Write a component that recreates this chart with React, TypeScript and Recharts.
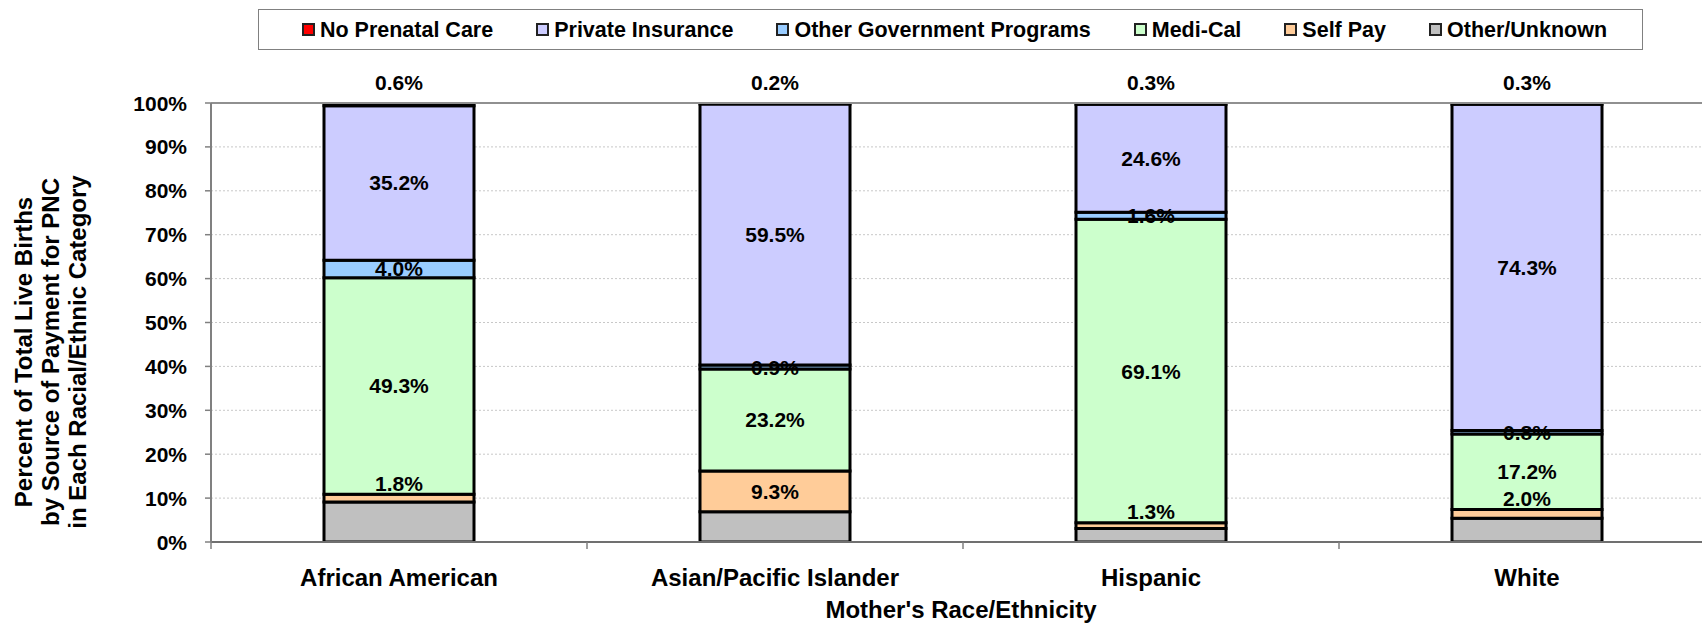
import React from 'react';
import { BarChart, Bar, XAxis, YAxis, CartesianGrid, ReferenceLine, LabelList } from 'recharts';

const categories = ['African American', 'Asian/Pacific Islander', 'Hispanic', 'White'];
const otherUnknown = [9.1, 6.9, 3.1, 5.4];
const selfPay = [1.8, 9.3, 1.3, 2.0];
const mediCal = [49.3, 23.2, 69.1, 17.2];
const otherGov = [4.0, 0.9, 1.6, 0.8];
const privateIns = [35.2, 59.5, 24.6, 74.3];
const noPrenatal = [0.6, 0.2, 0.3, 0.3];
const yTicks = [0, 10, 20, 30, 40, 50, 60, 70, 80, 90, 100];

const yTitleLines = ['Percent of Total Live Births', 'by Source of Payment for PNC', 'in Each Racial/Ethnic Category'];
const xTitle = "Mother's Race/Ethnicity";

type LabelMode = 'none' | 'center' | 'above' | 'selfpay';
const series: { key: string; name: string; values: number[]; color: string; mode: LabelMode }[] = [
  { key: 'otherUnknown', name: 'Other/Unknown', values: otherUnknown, color: '#C0C0C0', mode: 'none' },
  { key: 'selfPay', name: 'Self Pay', values: selfPay, color: '#FFCC99', mode: 'selfpay' },
  { key: 'mediCal', name: 'Medi-Cal', values: mediCal, color: '#CCFFCC', mode: 'center' },
  { key: 'otherGov', name: 'Other Government Programs', values: otherGov, color: '#99CCFF', mode: 'center' },
  { key: 'privateIns', name: 'Private Insurance', values: privateIns, color: '#CCCCFF', mode: 'center' },
  { key: 'noPrenatal', name: 'No Prenatal Care', values: noPrenatal, color: '#FF0000', mode: 'above' },
];

const data = categories.map((c, i) => {
  const row: Record<string, any> = { category: c };
  series.forEach((s) => {
    row[s.key] = s.values[i];
  });
  return row;
});

const FONT = '"Liberation Sans", Arial, Helvetica, sans-serif';
const CHART_W = 1730;
const CHART_H = 626;
const M = { top: 103, right: 15, bottom: 0, left: 0 };
const Y_AXIS_W = 211;
const X_AXIS_H = 84;
const BAND = (CHART_W - M.left - M.right - Y_AXIS_W) / categories.length;

const fmt = (v: number) => `${Number(v).toFixed(1)}%`;

const makeLabel = (mode: LabelMode) => (props: any) => {
  const vb = props.viewBox || {};
  const x = props.x ?? vb.x;
  const y = props.y ?? vb.y;
  const w = props.width ?? vb.width;
  const h = props.height ?? vb.height;
  const top = Math.min(y, y + h);
  const hh = Math.abs(h);
  const cx = x + w / 2;
  let cy = top + hh / 2;
  if (mode === 'above') cy = top - 21;
  if (mode === 'selfpay' && props.value < 5) cy = top - 11;
  return (
    <text
      x={cx}
      y={cy}
      textAnchor="middle"
      dominantBaseline="central"
      fontFamily={FONT}
      fontWeight="bold"
      fontSize={21}
      fill="#000"
    >
      {fmt(props.value)}
    </text>
  );
};

const XTick = (props: any) => {
  const { x, y, payload } = props;
  const left = x - BAND / 2;
  return (
    <g>
      <line x1={left} y1={y} x2={left} y2={y + 7} stroke="#808080" strokeWidth={1.5} />
      <text
        x={x}
        y={y + 35}
        textAnchor="middle"
        dominantBaseline="central"
        fontFamily={FONT}
        fontWeight="bold"
        fontSize={24}
        fill="#000"
      >
        {payload.value}
      </text>
    </g>
  );
};

const YTick = (props: any) => {
  const { x, y, payload } = props;
  return (
    <text
      x={x}
      y={y}
      textAnchor="end"
      dominantBaseline="central"
      fontFamily={FONT}
      fontWeight="bold"
      fontSize={21}
      fill="#000"
    >
      {`${payload.value}%`}
    </text>
  );
};

const legendItems = [...series].reverse();

export default function App() {
  return (
    <div style={{ position: 'absolute', left: 0, top: 0, width: 1702, height: 626, overflow: 'hidden', background: '#fff' }}>
      <div
        style={{
          position: 'absolute',
          left: 258,
          top: 9,
          width: 1385,
          height: 41,
          boxSizing: 'border-box',
          border: '1.5px solid #808080',
          display: 'flex',
          alignItems: 'center',
          justifyContent: 'center',
          fontFamily: FONT,
          fontWeight: 'bold',
          fontSize: 21.5,
          color: '#000',
          zIndex: 2,
          background: '#fff',
          paddingLeft: 8,
        }}
      >
        {legendItems.map((s, i) => (
          <div key={s.key} style={{ display: 'flex', alignItems: 'center', marginLeft: i === 0 ? 0 : 43 }}>
            <span
              style={{
                display: 'inline-block',
                width: 13,
                height: 13,
                boxSizing: 'border-box',
                background: s.color,
                border: '2px solid #222',
                marginRight: 5,
              }}
            />
            <span style={{ whiteSpace: 'nowrap', lineHeight: '24px' }}>{s.name}</span>
          </div>
        ))}
      </div>
      <BarChart width={CHART_W} height={CHART_H} data={data} margin={M} barSize={150}>
        <CartesianGrid vertical={false} horizontal stroke="#c8c8c8" strokeDasharray="2 2" />
        <XAxis
          dataKey="category"
          height={X_AXIS_H}
          axisLine={{ stroke: '#707070', strokeWidth: 2 }}
          tickLine={false}
          tickSize={0}
          tickMargin={0}
          tick={<XTick />}
          interval={0}
        />
        <YAxis
          width={Y_AXIS_W}
          domain={[0, 100]}
          ticks={yTicks}
          interval={0}
          allowDataOverflow
          axisLine={{ stroke: '#808080', strokeWidth: 2 }}
          tickLine={{ stroke: '#808080', strokeWidth: 1.5 }}
          tickSize={6}
          tickMargin={18}
          tick={<YTick />}
        />
        <ReferenceLine y={100} stroke="#909090" strokeWidth={2} ifOverflow="visible" />
        {series.map((s) => (
          <Bar
            key={s.key}
            dataKey={s.key}
            name={s.name}
            stackId="a"
            fill={s.color}
            stroke="#000"
            strokeWidth={3}
            isAnimationActive={false}
          >
            {s.mode !== 'none' && <LabelList dataKey={s.key} content={makeLabel(s.mode)} />}
          </Bar>
        ))}
      </BarChart>
      <svg
        width={1702}
        height={626}
        style={{ position: 'absolute', left: 0, top: 0, pointerEvents: 'none' }}
      >
        {yTitleLines.map((line, i) => (
          <text
            key={i}
            transform={`translate(${23 + i * 27}, 352) rotate(-90)`}
            textAnchor="middle"
            dominantBaseline="central"
            fontFamily={FONT}
            fontWeight="bold"
            fontSize={24}
            fill="#000"
          >
            {line}
          </text>
        ))}
        <text
          x={961}
          y={609}
          textAnchor="middle"
          dominantBaseline="central"
          fontFamily={FONT}
          fontWeight="bold"
          fontSize={24}
          fill="#000"
        >
          {xTitle}
        </text>
      </svg>
    </div>
  );
}
